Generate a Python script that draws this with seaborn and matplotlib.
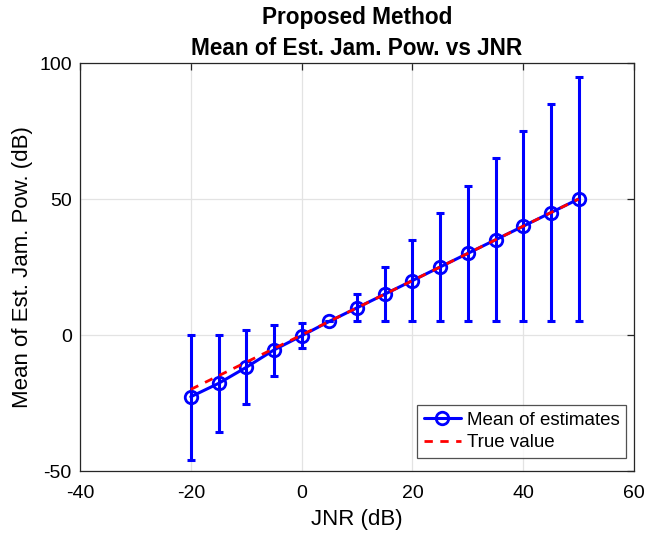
"""Mean of estimated jamming power vs JNR, MATLAB-style figure."""

import matplotlib

matplotlib.use("Agg")
import matplotlib.pyplot as plt
import numpy as np
import pandas as pd
import seaborn as sns

jnr_db = [-20, -15, -10, -5, 0, 5, 10, 15, 20, 25, 30, 35, 40, 45, 50]
mean_est = [-22.7, -17.8, -11.9, -5.5, -0.3, 5.0, 10.0, 15.0, 20.0, 25.0, 30.0, 35.0, 40.0, 45.0, 50.0]
upper_est = [0.1, 0.1, 1.9, 3.8, 4.4, 5.0, 14.9, 24.9, 34.9, 44.9, 54.9, 65.0, 75.0, 84.9, 95.0]
lower_est = [-46.0, -35.8, -25.4, -15.0, -4.8, 5.0, 5.0, 5.0, 5.0, 5.0, 5.0, 5.0, 5.0, 5.0, 5.0]
true_value = jnr_db

sns.set_theme(style="white")
plt.rcParams["font.family"] = ["Liberation Sans", "DejaVu Sans"]
plt.rcParams["axes.unicode_minus"] = False
plt.rcParams["text.color"] = "black"
plt.rcParams["axes.labelcolor"] = "black"

df = pd.DataFrame({"jnr": jnr_db, "mean": mean_est, "true": true_value})
err_lo = np.array(mean_est) - np.array(lower_est)
err_hi = np.array(upper_est) - np.array(mean_est)

fig = plt.figure(figsize=(6.58, 5.37), dpi=100)
ax = fig.add_axes([80 / 658, 66 / 537, 554 / 658, 408 / 537])

ax.errorbar(jnr_db, mean_est, yerr=[err_lo, err_hi], fmt="none", ecolor="#0000ff",
            elinewidth=2.2, capsize=2.7, capthick=2.2, zorder=2)
sns.lineplot(data=df, x="jnr", y="mean", ax=ax, color="#0000ff", linewidth=2.2,
             marker="o", markersize=9, markerfacecolor="none", markeredgecolor="#0000ff",
             markeredgewidth=2.0, label="Mean of estimates", zorder=3)
sns.lineplot(data=df, x="jnr", y="true", ax=ax, color="#ff0000", linewidth=2.0,
             linestyle=(0, (3, 2.7)), label="True value", zorder=4)

ax.set_xlim(-40, 60)
ax.set_ylim(-50, 100)
ax.set_xticks(np.arange(-40, 61, 20))
ax.set_yticks(np.arange(-50, 101, 50))
ax.grid(True, color="#e3e3e3", linewidth=0.9)
ax.set_axisbelow(True)
for spine in ax.spines.values():
    spine.set_color("#262626")
    spine.set_linewidth(0.9)
ax.tick_params(direction="in", length=5, width=0.9, top=True, right=True,
               labelsize=14, colors="#262626", labelcolor="black")
ax.tick_params(axis="x", pad=10)
ax.tick_params(axis="y", pad=6)

ax.set_xlabel("JNR (dB)", fontsize=16, labelpad=5)
ax.set_ylabel("Mean of Est. Jam. Pow. (dB)", fontsize=16, labelpad=4)
ax.set_title("Proposed Method\nMean of Est. Jam. Pow. vs JNR", fontsize=16.3,
             fontweight="bold", linespacing=1.45, pad=6, color="black")

leg = ax.legend(loc="lower right", fontsize=13.5, frameon=True, fancybox=False,
                edgecolor="#262626", borderpad=0.35, handlelength=2.0,
                handletextpad=0.3, labelspacing=0.3,
                bbox_to_anchor=(1 - 8 / 554, 13 / 408), borderaxespad=0)
leg.get_frame().set_linewidth(0.9)

fig.savefig("out.png", dpi=100)
